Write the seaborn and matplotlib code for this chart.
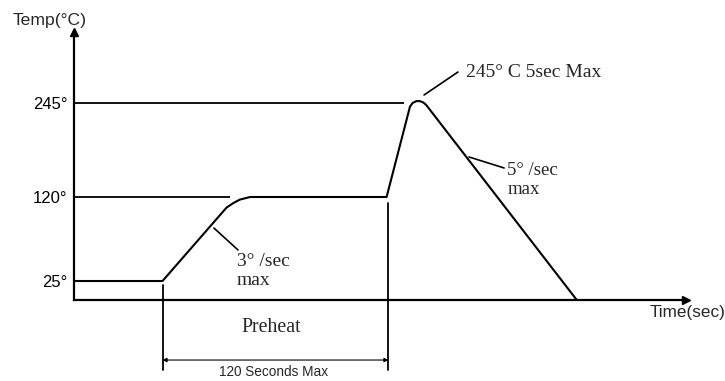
import numpy as np
import seaborn as sns
import matplotlib.pyplot as plt

sns.set_style("white")
plt.rcParams['font.family'] = ['Liberation Sans', 'DejaVu Sans']

# reflow profile (seconds, degC)
profile_time = [0, 47, 81, 84.5, 88, 93.5, 166, 178.4, 179.8, 181.8, 183.8, 185.6, 187, 267]
profile_temp = [25, 25, 108, 113, 117, 120, 120, 240, 245, 247.5, 247.5, 245.5, 242.5, 0]

temp_levels = [25, 120, 245]
temp_labels = ['25°', '120°', '245°']
guide_end = [47, 83, 175]
preheat_start, preheat_end = 47, 167

# the sketch is not to scale: temps are spaced unevenly up the axis
scale_temp = [-200, 0, 25, 120, 245, 500]
scale_pos = [-152, 0, 19, 103, 197, 388.25]


def fwd(v):
    return np.interp(v, scale_temp, scale_pos)


def inv(v):
    return np.interp(v, scale_pos, scale_temp)


serif = ['Liberation Serif', 'DejaVu Serif']

fig = plt.figure(figsize=(7.25, 3.81), dpi=100)
ax = fig.add_axes([74 / 725, 81 / 381, (686 - 74) / 725, (300 - 32) / 381])
ax.set_yscale('function', functions=(fwd, inv))
ax.set_xlim(0, 325)
ax.set_ylim(0, inv(268))

# profile and the level guides
sns.lineplot(x=profile_time, y=profile_temp, color='black', lw=1.5,
             sort=False, estimator=None, ax=ax)
ax.hlines(temp_levels, 0, guide_end, color='black', lw=1.3)

# axes with arrow heads
sns.despine(ax=ax)
for side in ['left', 'bottom']:
    ax.spines[side].set_linewidth(1.6)
    ax.spines[side].set_color('black')
ax.plot(0, 1, '^k', ms=6, transform=ax.transAxes, clip_on=False)
ax.plot(1, 0, '>k', ms=6, transform=ax.transAxes, clip_on=False)

ax.set_xticks([])
ax.set_yticks(temp_levels, temp_labels)
ax.tick_params(axis='y', length=0, pad=4.5, labelsize=12, labelcolor='black')

# preheat dimension below the time axis
trans = ax.get_xaxis_transform()
ax.plot([preheat_start, preheat_start], [0.056, -0.261], color='black', lw=1.3,
        transform=trans, clip_on=False)
ax.plot([preheat_end, preheat_end], [0.362, -0.261], color='black', lw=1.3,
        transform=trans, clip_on=False)
ax.annotate('', xy=(preheat_start, -0.224), xytext=(preheat_end, -0.224),
            xycoords=trans, textcoords=trans, annotation_clip=False,
            arrowprops=dict(arrowstyle='<|-|>', lw=0.8, color='black',
                            mutation_scale=6, shrinkA=0, shrinkB=0))
ax.text((preheat_start + preheat_end) / 2 - 2, -0.104, 'Preheat', transform=trans,
        ha='center', va='center', fontsize=14.3, family=serif)
ax.text((preheat_start + preheat_end) / 2 - 1, -0.269, '120 Seconds Max', transform=trans,
        ha='center', va='center', fontsize=9.8)

# leader notes
ax.plot([185.9, 203.9], [255.7, 286.3], color='black', lw=1.2, clip_on=False)
ax.text(208.2, 286, '245° C 5sec Max', ha='left', va='center', fontsize=14, family=serif)

ax.plot([209.8, 228.4], [173.2, 158.6], color='black', lw=1.2)
ax.text(230, 142.6, '5° /sec\nmax', ha='left', va='center', fontsize=13.5,
        family=serif, linespacing=1.2)

ax.plot([74.3, 87.1], [84.9, 60.1], color='black', lw=1.2)
ax.text(86.6, 36.3, '3° /sec\nmax', ha='left', va='center', fontsize=14,
        family=serif, linespacing=1.2)

fig.text(13 / 725, 1 - 21 / 381, 'Temp(°C)', ha='left', va='center', fontsize=12.6)
fig.text(650 / 725, 1 - 312 / 381, 'Time(sec)', ha='left', va='center', fontsize=12.3)

fig.savefig('out.png', dpi=100)
